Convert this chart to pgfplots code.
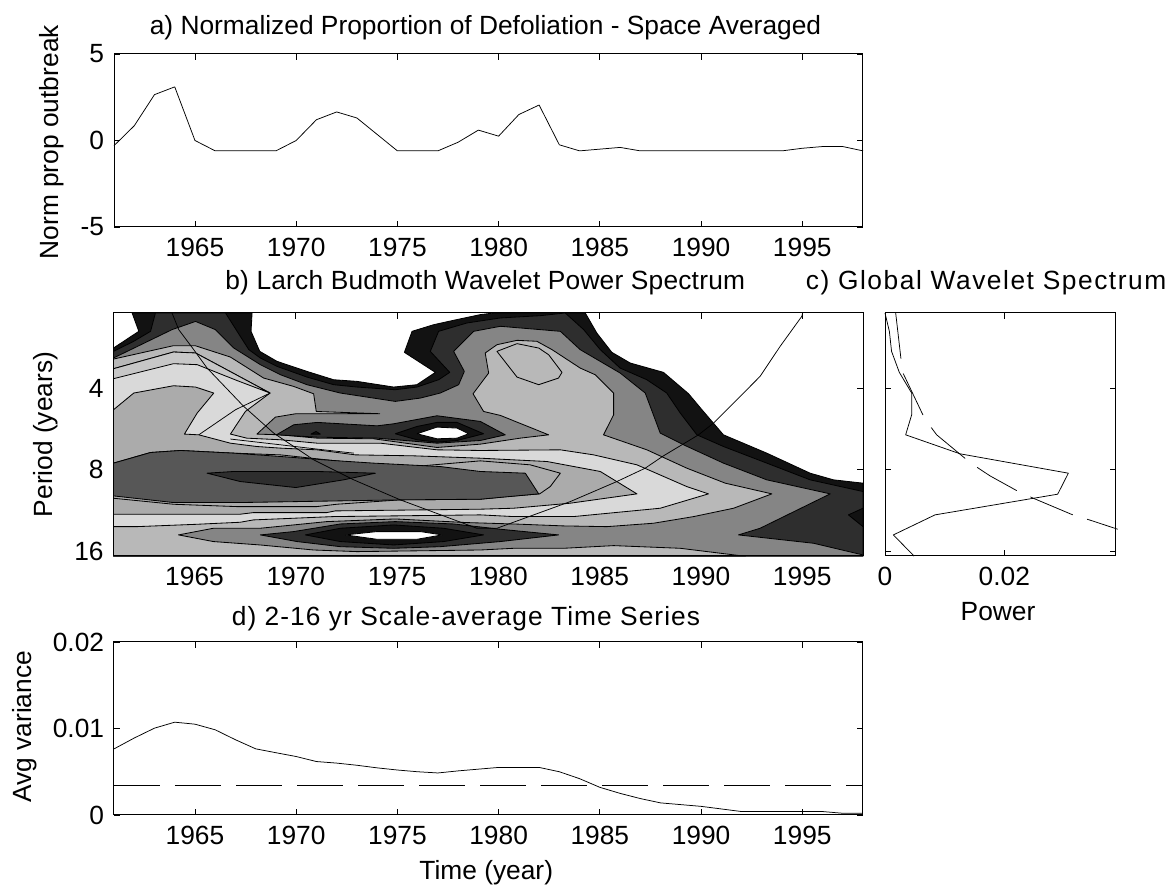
\documentclass[border=0pt]{standalone}
\usepackage{fontspec}
\setmainfont{Liberation Sans}
\usepackage{pgfplots}
\pgfplotsset{compat=1.18}

% reference pixels times 0.6 = pt
\pgfplotsset{
    panel/.style={
        scale only axis,
        anchor=south west,
        clip=false,
        tick align=inside,
        major tick length=3.6pt,
        tick pos=both,
        scaled x ticks=false,
        scaled y ticks=false,
        tick style={black,line width=0.45pt},
        axis line style={line width=0.6pt},
        every tick label/.append style={font=\fontsize{15.8}{18}\selectfont},
        label style={font=\fontsize{15.8}{18}\selectfont},
        title style={font=\fontsize{15.8}{18}\selectfont,anchor=base},
        xticklabel style={yshift=-3pt},
        yticklabel style={xshift=-2.4pt},
        xmin=1961,xmax=1998,
        xtick={1965,1970,1975,1980,1985,1990,1995},
        xticklabels={1965,1970,1975,1980,1985,1990,1995},
    },
    ylab/.style={ylabel style={at={(axis description cs:#1)},rotate=0,anchor=center}},
    cont/.style={draw=black,line width=0.5pt,line join=round,fill=#1},
    series/.style={black,line width=0.45pt,line join=round},
}
\definecolor{c1}{gray}{0.07}
\definecolor{c2}{gray}{0.18}
\definecolor{c3}{gray}{0.52}
\definecolor{c4}{gray}{0.72}
\definecolor{c5}{gray}{0.85}
\definecolor{c6}{gray}{0.67}
\definecolor{c7}{gray}{0.34}
\definecolor{c45}{gray}{0.78}

\begin{document}
\begin{tikzpicture}
\useasboundingbox (0,0) rectangle (704.4pt,532.8pt);

% a) time series
\begin{axis}[panel,at={(68.4pt,396.6pt)},width=449.4pt,height=103.8pt,
    ymin=-5,ymax=5,ytick={-5,0,5},yticklabels={-5,0,5},
    title={a) Normalized Proportion of Defoliation - Space Averaged},
    title style={at={(0.496,1)},yshift=5.6pt},
    ylabel={Norm prop outbreak},ylab={-0.083,0.49}]
\addplot[series] coordinates {
(1961,-0.3) (1962,0.85) (1963,2.65) (1964,3.1) (1965,0) (1966,-0.6) (1967,-0.6) (1968,-0.6)
(1969,-0.6) (1970,0) (1971,1.2) (1972,1.65) (1973,1.3) (1974,0.35) (1975,-0.6) (1976,-0.6)
(1977,-0.6) (1978,-0.1) (1979,0.6) (1980,0.25) (1981,1.5) (1982,2.05) (1983,-0.25) (1984,-0.6)
(1985,-0.5) (1986,-0.4) (1987,-0.6) (1988,-0.6) (1989,-0.6) (1990,-0.6) (1991,-0.6) (1992,-0.6)
(1993,-0.6) (1994,-0.6) (1995,-0.45) (1996,-0.35) (1997,-0.35) (1998,-0.6)};
\end{axis}

% b) wavelet power; y is log2 of the period
\begin{axis}[panel,at={(68.1pt,199.2pt)},width=449.7pt,height=145.8pt,
    y dir=reverse,ymin=1.066,ymax=4.062,ytick={2,3,4},yticklabels={4,8,16},
    title={b) Larch Budmoth Wavelet Power Spectrum},
    title style={at={(0.496,1)},yshift=7.8pt,font=\fontsize{15.8}{18}\selectfont\addfontfeature{LetterSpace=0.8}},
    ylabel={Period (years)},ylab={-0.09,0.5}]
\addplot[cont=c1] coordinates {(1961,1.498) (1962.25,1.292) (1961.92,1.066) (1967.84,1.066) (1967.79,1.292)
 (1968.22,1.539) (1969.07,1.662) (1970.55,1.786) (1971.87,1.889) (1973.02,1.909) (1974.83,1.979)
 (1975.98,1.950) (1976.89,1.798) (1975.36,1.551) (1975.74,1.292) (1976.81,1.210) (1977.79,1.156)
 (1979.11,1.086) (1979.77,1.066) (1984.29,1.066) (1984.86,1.313) (1985.60,1.551) (1986.51,1.683)
 (1988.15,1.798) (1989.39,2.062) (1990.05,2.259) (1991.11,2.568) (1993.25,2.794) (1995.39,3.041)
 (1996.54,3.123) (1998,3.164) (1998,4.062) (1961,4.062)} --cycle;
\addplot[cont=c2] coordinates {(1961,1.539) (1962,1.415) (1962.83,1.292) (1963.07,1.066) (1966.53,1.066)
 (1967.26,1.354) (1967.68,1.518) (1968.25,1.621) (1969.07,1.724) (1970.55,1.856) (1971.87,1.950)
 (1973.02,1.979) (1974.91,2.012) (1975.98,1.979) (1977.05,1.889) (1977.60,1.798) (1976.64,1.539)
 (1977.05,1.292) (1978.45,1.189) (1980.10,1.127) (1982.07,1.099) (1983.30,1.066) (1984.21,1.271)
 (1985.03,1.518) (1986.01,1.745) (1987.33,1.889) (1988.31,2.053) (1988.98,2.300) (1989.80,2.568)
 (1991.11,2.712) (1993.25,2.917) (1995.39,3.123) (1998,3.267) (1998,4.062) (1961,4.062)} --cycle;
\addplot[cont=c1] coordinates {(1997.28,3.555) (1998,3.473) (1998,3.700)} --cycle;
\addplot[cont=c3] coordinates {(1961,1.621) (1963.89,1.271) (1965.05,1.170) (1966.03,1.271) (1966.94,1.498)
 (1968.25,1.703) (1969.24,1.827) (1970.55,1.950) (1972.20,2.053) (1974.91,2.156) (1976.15,2.115)
 (1977.13,2.053) (1978.04,1.950) (1978.32,1.786) (1977.79,1.539) (1978.78,1.292) (1980.10,1.230)
 (1983.06,1.292) (1984.04,1.518) (1986.01,1.806) (1987.25,2.053) (1987.99,2.547) (1989.14,2.691)
 (1991.11,2.917) (1993.25,3.123) (1996.38,3.296) (1992.92,3.720) (1991.85,3.802) (1995.56,3.905)
 (1998,4.049) (1998,4.062) (1961,4.062)} --cycle;
\addplot[cont=c4] coordinates {(1961,1.634) (1963.96,1.469) (1965.03,1.469) (1966.77,1.609) (1968.41,1.868)
 (1969.89,1.971) (1970.88,2.062) (1971.01,2.280) (1974.14,2.308) (1970,2.308) (1968.99,2.350)
 (1968.08,2.559) (1969.24,2.568) (1971.05,2.609) (1973.84,2.617) (1976.97,2.724) (1979.11,2.683)
 (1981.08,2.609) (1982.48,2.568) (1980.10,2.329) (1979.27,2.280) (1978.75,2.062) (1979.52,1.806)
 (1979.35,1.559) (1979.93,1.457) (1980.92,1.403) (1981.90,1.415) (1982.65,1.518) (1984.04,1.745)
 (1984.78,1.827) (1985.69,2.053) (1985.69,2.321) (1985.19,2.568) (1987.33,2.753) (1989.30,2.979)
 (1991.20,3.164) (1993.50,3.296) (1991.61,3.473) (1989.64,3.576) (1987.66,3.658) (1985.36,3.700)
 (1983.22,3.691) (1980.75,3.667) (1978.45,3.650) (1974.91,3.605) (1971.53,3.638) (1968.24,3.720)
 (1965.93,3.720) (1964.21,3.802) (1965.93,3.884) (1968.24,3.926) (1970.88,3.988) (1973.02,4.008)
 (1979.11,3.988) (1980.75,3.967) (1983.22,3.967) (1985.69,3.934) (1988.98,3.967) (1991.94,4.058)
 (1992.2,4.062) (1961,4.062)} --cycle;
\addplot[cont=c5] coordinates {(1961,1.753) (1963.96,1.547) (1965.05,1.559) (1966.44,1.745) (1968.73,2.053)
 (1967.51,2.280) (1966.77,2.559) (1967.58,2.609) (1969.24,2.629) (1971.05,2.671) (1974.17,2.671)
 (1976.97,2.753) (1979.11,2.761) (1983.06,2.753) (1984.70,2.815) (1986.84,2.938) (1989.30,3.206)
 (1990.37,3.296) (1987.99,3.473) (1983.71,3.576) (1980.75,3.576) (1979.11,3.555) (1971.86,3.576)
 (1967.91,3.617) (1967.25,3.646) (1965.11,3.671) (1962.15,3.700) (1961,3.700)} --cycle;
\addplot[cont=c45] coordinates {(1961,1.753) (1963.96,1.547) (1965.05,1.559) (1966.44,1.745) (1968.73,2.053)
 (1967.08,1.897) (1965.13,1.703) (1963.96,1.691) (1961,1.876)} --cycle;
\addplot[series] coordinates {(1965.21,2.568) (1967.02,2.259) (1968.73,2.053)};
\addplot[series] coordinates {(1966.77,2.62) (1969.24,2.691) (1971.05,2.744) (1972.86,2.794)};
\addplot[cont=c6] coordinates {(1961,2.259) (1962,2.053) (1963.96,1.963) (1965.05,1.979) (1965.95,2.053)
 (1965.13,2.300) (1964.50,2.559) (1965.21,2.568) (1966.77,2.671) (1968.07,2.712) (1969.24,2.732)
 (1971.05,2.753) (1972.94,2.815) (1975.82,2.827) (1979.11,2.856) (1982.40,2.897) (1985.03,3.020)
 (1986.84,3.296) (1983.55,3.411) (1980.75,3.473) (1979.11,3.485) (1971.94,3.506) (1971.53,3.527)
 (1967.91,3.527) (1967.25,3.547) (1961,3.547)} --cycle;
\addplot[cont=c6] coordinates {(1961,2.917) (1962.83,2.786) (1964.31,2.761) (1966.94,2.794) (1969.24,2.815)
 (1973.02,2.917) (1975.82,2.959) (1979.11,2.889) (1981.57,2.938) (1983.06,3.041) (1982.56,3.206)
 (1982.04,3.296) (1980.42,3.329) (1979.11,3.362) (1975.14,3.370) (1972.02,3.424) (1971.03,3.453)
 (1967.09,3.453) (1963.96,3.424) (1961,3.350)} --cycle;
\addplot[cont=c7] coordinates {(1961,2.917) (1962.83,2.786) (1964.31,2.761) (1966.94,2.794) (1969.24,2.835)
 (1971.87,2.885) (1973.84,2.917) (1977.13,2.959) (1979.11,3.020) (1981.33,3.041) (1981.99,3.296)
 (1979.11,3.362) (1975.14,3.370) (1967.25,3.403) (1963.96,3.403) (1961,3.321)} --cycle;
\addplot[cont=c2] coordinates {(1965.62,3.041) (1966.94,3.020) (1971.05,3.020) (1973.93,3.041) (1972.36,3.123)
 (1970,3.218) (1967.26,3.144)} --cycle;
% island near 6 years
\addplot[cont=c2] coordinates {(1969.04,2.568) (1969.90,2.444) (1971.05,2.415) (1974.01,2.457) (1974.83,2.432)
 (1976.97,2.333) (1979.11,2.403) (1980.34,2.568) (1979.11,2.638) (1976.97,2.671) (1974.01,2.609)
 (1971.05,2.597)} --cycle;
\addplot[cont=c1] coordinates {(1970.75,2.559) (1971,2.527) (1971.21,2.559)} --cycle;
\addplot[cont=c1] coordinates {(1974.91,2.555) (1975.98,2.465) (1976.97,2.415) (1977.96,2.415) (1979.27,2.555)
 (1977.96,2.638) (1976.97,2.658) (1975.98,2.629)} --cycle;
\addplot[cont=white] coordinates {(1975.98,2.555) (1976.97,2.473) (1977.96,2.485) (1978.53,2.555)
 (1977.96,2.609) (1976.97,2.617)} --cycle;
% island near 13 years
\addplot[cont=c2] coordinates {(1968.25,3.802) (1969.89,3.761) (1972.20,3.667) (1974.91,3.638) (1977.79,3.667)
 (1980.10,3.732) (1982.97,3.802) (1980.10,3.884) (1977.13,3.947) (1974.83,3.967) (1972.20,3.947)
 (1970.06,3.884)} --cycle;
\addplot[cont=c1] coordinates {(1970.47,3.802) (1972.20,3.720) (1974.83,3.679) (1977.30,3.720) (1979.27,3.802)
 (1977.30,3.884) (1974.83,3.926) (1972.20,3.884)} --cycle;
\addplot[cont=white] coordinates {(1972.45,3.802) (1974.01,3.761) (1976.15,3.761) (1977.22,3.802)
 (1975.98,3.856) (1974.01,3.856)} --cycle;
\addplot[cont=c4] coordinates {(1979.93,1.539) (1980.92,1.444) (1981.99,1.498) (1982.48,1.580) (1983.14,1.798)
 (1982.97,1.868) (1981.99,1.950) (1980.92,1.856)} --cycle;
% cone of influence
\addplot[series] coordinates {(1963.89,1.066) (1964.22,1.271) (1964.96,1.518) (1965.62,1.745) (1967.43,2.218)
 (1968.91,2.547) (1970.88,2.876) (1972.86,3.123) (1975.16,3.370) (1978.94,3.720) (1979.93,3.720)
 (1983.55,3.391) (1985.85,3.144) (1987.25,2.979) (1988.15,2.827) (1989.14,2.679) (1989.88,2.568)
 (1990.62,2.424) (1991.61,2.177) (1992.92,1.847) (1993.91,1.477) (1994.98,1.107) (1995.02,1.066)};
\draw[black,line width=0.6pt] (rel axis cs:0,0) rectangle (rel axis cs:1,1);
\end{axis}

% c) global spectrum
\begin{axis}[panel,at={(531pt,199.2pt)},width=138.4pt,height=145.8pt,
    xmin=0,xmax=0.03866,xtick={0,0.02},xticklabels={0,0.02},
    y dir=reverse,ymin=1.066,ymax=4.062,ytick={2,3,4},yticklabels={},
    title={c) Global Wavelet Spectrum},
    title style={at={(0.438,1)},yshift=7.8pt,font=\fontsize{15.8}{18}\selectfont\addfontfeature{LetterSpace=5.8}},
    xlabel={Power},xlabel style={at={(axis description cs:0.49,-0.23)},anchor=center}]
\addplot[series] coordinates {(0,1.066) (0.00073,1.292) (0.0011,1.539) (0.0024,1.798) (0.00447,2.053)
 (0.00447,2.321) (0.00346,2.568) (0.01257,2.802) (0.03073,3.041) (0.02894,3.300) (0.00838,3.555)
 (0.0014,3.802) (0.00486,4.062)};
\addplot[series,dash pattern=on 27.6pt off 9pt] coordinates {(0.00179,1.066) (0.00268,1.634) (0.00307,1.815)
 (0.00642,2.333) (0.00782,2.485) (0.00866,2.568) (0.01358,2.868) (0.01564,2.979) (0.0176,3.074)
 (0.02235,3.267) (0.02486,3.350) (0.03173,3.563) (0.03425,3.617) (0.039,3.732)};
\end{axis}

% d) scale-average series
\begin{axis}[panel,at={(68.4pt,43.8pt)},width=449.4pt,height=103.8pt,
    ymin=0,ymax=0.02,ytick={0,0.01,0.02},yticklabels={0,0.01,0.02},
    title={d) 2-16 yr Scale-average Time Series},
    title style={at={(0.47,1)},yshift=3.6pt,font=\fontsize{15.8}{18}\selectfont\addfontfeature{LetterSpace=4}},
    ylabel={Avg variance},ylab={-0.119,0.51},
    xlabel={Time (year)},xlabel style={at={(axis description cs:0.497,-0.335)},anchor=center}]
\addplot[series] coordinates {
(1961,0.00764) (1962,0.0089) (1963,0.01004) (1964,0.01073) (1965,0.0105) (1966,0.00985) (1967,0.0087)
(1968,0.00765) (1969,0.0072) (1970,0.00676) (1971,0.00618) (1972,0.0060) (1973,0.00575) (1974,0.00545)
(1975,0.0052) (1976,0.0050) (1977,0.00486) (1978,0.0051) (1979,0.0053) (1980,0.0055) (1981,0.0055)
(1982,0.0055) (1983,0.0050) (1984,0.0042) (1985,0.0032) (1986,0.0025) (1987,0.0019) (1988,0.0014)
(1989,0.0012) (1990,0.001) (1991,0.0007) (1992,0.0004) (1993,0.0004) (1994,0.0004) (1995,0.0004)
(1996,0.0004) (1997,0.0002) (1998,0.0002)};
\addplot[series,dash pattern=on 27.6pt off 9pt] coordinates {(1961,0.0034) (1998,0.0034)};
\end{axis}
\end{tikzpicture}
\end{document}
